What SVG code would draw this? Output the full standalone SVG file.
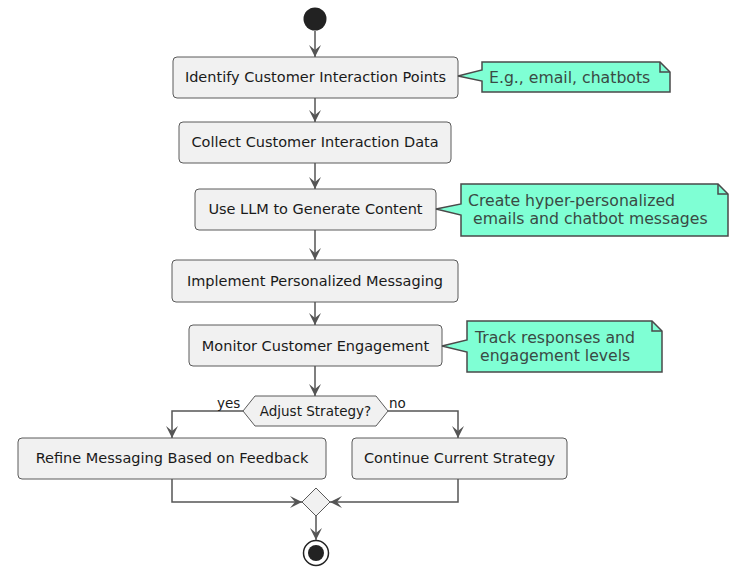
<svg xmlns="http://www.w3.org/2000/svg" width="738" height="569" viewBox="0 0 738 569">
<style>
.box{fill:#F1F1F1;stroke:#5a5a5a;stroke-width:1}
.t{font-family:"DejaVu Sans",sans-serif;font-size:14.5px;fill:#1a1a1a;text-anchor:middle}
.note{fill:#7FFFD4;stroke:#4a4a4a;stroke-width:1.5}
.nt{font-family:"DejaVu Sans",sans-serif;font-size:15.7px;fill:#3a4a44}
.ln{fill:none;stroke:#555;stroke-width:1.5}
.lbl{font-family:"DejaVu Sans",sans-serif;font-size:13.5px;fill:#1a1a1a}
</style>
<defs>
<marker id="ah" markerUnits="userSpaceOnUse" viewBox="-13 -7 14 14" markerWidth="14" markerHeight="14" refX="0" refY="0" orient="auto">
<path d="M0,0 L-12,-6 L-7,0 L-12,6 Z" fill="#555"/>
</marker>
</defs>
<g id="start"><circle cx="315" cy="19" r="11.5" fill="#222"/></g>
<g id="n1"><rect class="box" x="173" y="57" width="285" height="41" rx="4"/><text class="t" x="315.5" y="82">Identify Customer Interaction Points</text></g>
<g id="note1"><path class="note" d="M482,62 L660,62 L670,72 L670,92 L482,92 L482,81 L458,76 L482,70 Z"/><path class="ln" d="M660,62 L660,72 L670,72" style="stroke:#4a4a4a"/><text class="nt" x="489" y="82.5">E.g., email, chatbots</text></g>
<g id="n2"><rect class="box" x="179" y="122" width="272" height="41" rx="4"/><text class="t" x="315" y="147">Collect Customer Interaction Data</text></g>
<g id="n3"><rect class="box" x="195" y="189" width="241" height="41" rx="4"/><text class="t" x="315.5" y="214">Use LLM to Generate Content</text></g>
<g id="note2"><path class="note" d="M461,184 L718,184 L728,194 L728,236 L461,236 L461,215 L436,209 L461,204 Z"/><path class="ln" d="M718,184 L718,194 L728,194" style="stroke:#4a4a4a"/><text class="nt" x="468" y="206">Create hyper-personalized</text><text class="nt" x="468" y="224" xml:space="preserve"> emails and chatbot messages</text></g>
<g id="n4"><rect class="box" x="172" y="260" width="286" height="42" rx="4"/><text class="t" x="315" y="285.5">Implement Personalized Messaging</text></g>
<g id="n5"><rect class="box" x="189" y="325" width="253" height="41" rx="4"/><text class="t" x="315.5" y="350.5">Monitor Customer Engagement</text></g>
<g id="note3"><path class="note" d="M467,321 L652,321 L662,331 L662,372 L467,372 L467,352 L442,346 L467,340 Z"/><path class="ln" d="M652,321 L652,331 L662,331" style="stroke:#4a4a4a"/><text class="nt" x="475" y="343">Track responses and</text><text class="nt" x="475" y="361" xml:space="preserve"> engagement levels</text></g>
<g id="decision"><path class="box" d="M243,411 L255,396 L376,396 L388,411 L376,426 L255,426 Z"/><text class="lbl" x="315.5" y="415.5" text-anchor="middle">Adjust Strategy?</text></g>
<g id="n6"><rect class="box" x="18" y="438" width="308" height="41" rx="4"/><text class="t" x="172" y="463">Refine Messaging Based on Feedback</text></g>
<g id="n7"><rect class="box" x="352" y="438" width="215" height="41" rx="4"/><text class="t" x="459.5" y="463">Continue Current Strategy</text></g>
<g id="merge"><path class="box" d="M302,502 L316,488 L330,502 L316,516 Z"/></g>
<g id="end"><circle cx="316" cy="553" r="12.5" fill="#fff" stroke="#222" stroke-width="1.5"/><circle cx="316" cy="553" r="8" fill="#222"/></g>
<g id="connectors">
<path class="ln" d="M315,31 L315,57" marker-end="url(#ah)"/>
<path class="ln" d="M315,98 L315,122" marker-end="url(#ah)"/>
<path class="ln" d="M315,163 L315,189" marker-end="url(#ah)"/>
<path class="ln" d="M315,230 L315,260" marker-end="url(#ah)"/>
<path class="ln" d="M315,302 L315,325" marker-end="url(#ah)"/>
<path class="ln" d="M315,366 L315,396" marker-end="url(#ah)"/>
<path class="ln" d="M243,411 L172,411 L172,438" marker-end="url(#ah)"/>
<path class="ln" d="M388,411 L458,411 L458,438" marker-end="url(#ah)"/>
<path class="ln" d="M172,479 L172,502 L302,502" marker-end="url(#ah)"/>
<path class="ln" d="M458,479 L458,502 L330,502" marker-end="url(#ah)"/>
<path class="ln" d="M316,516 L316,540" marker-end="url(#ah)"/>
<text class="lbl" x="217" y="408">yes</text>
<text class="lbl" x="389" y="408">no</text>
</g>
</svg>
